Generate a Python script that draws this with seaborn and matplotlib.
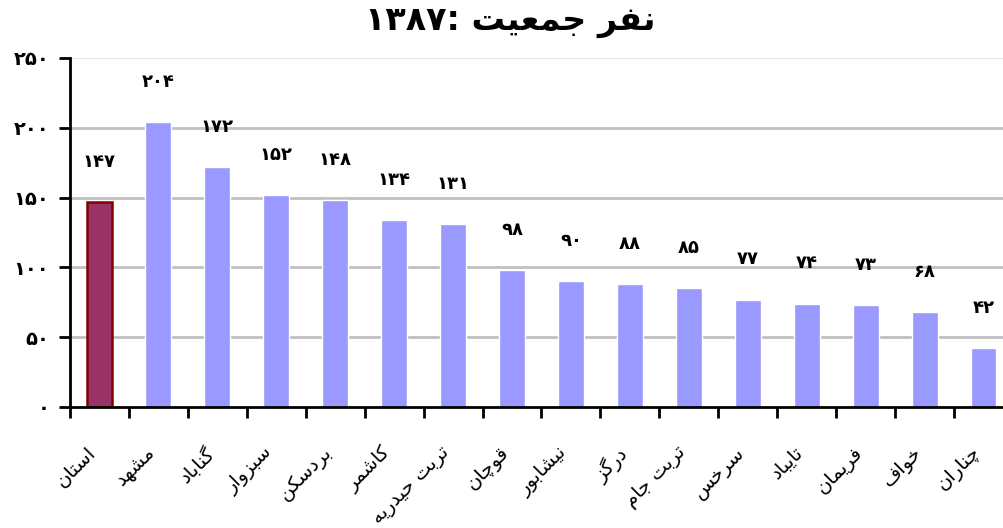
import numpy as np
import pandas as pd
import matplotlib
matplotlib.use("Agg")
import matplotlib.pyplot as plt
import matplotlib.transforms as mtransforms
import seaborn as sns

# =========================
# data
# =========================
cities = ["استان", "مشهد", "گناباد", "سبزوار", "بردسکن", "کاشمر", "تربت حیدریه",
          "قوچان", "نیشابور", "درگز", "تربت جام", "سرخس", "تایباد", "فریمان",
          "خواف", "چناران"]
population = [147, 204, 172, 152, 148, 134, 131, 98, 90, 88, 85, 77, 74, 73, 68, 42]
y_ticks = [0, 50, 100, 150, 200, 250]
title_word1 = "نفر"
title_word2 = "جمعیت"
title_year = "1387"

# =========================
# persian shaping helpers (matplotlib draws letters isolated, LTR)
# =========================
FOUR = {"ب": 0xFE8F, "پ": 0xFB56, "ت": 0xFE95, "ج": 0xFE9D, "چ": 0xFB7A,
        "ح": 0xFEA1, "خ": 0xFEA5, "س": 0xFEB1, "ش": 0xFEB5, "ع": 0xFEC9,
        "ف": 0xFED1, "ق": 0xFED5, "ک": 0xFB8E, "گ": 0xFB92, "م": 0xFEE1,
        "ن": 0xFEE5, "ه": 0xFEE9, "ی": 0xFBFC}
TWO = {"ا": 0xFE8D, "د": 0xFEA9, "ر": 0xFEAD, "ز": 0xFEAF, "و": 0xFEED}


def shape_word(w):
    out = []
    for i, c in enumerate(w):
        prev_c = w[i - 1] if i > 0 else None
        next_c = w[i + 1] if i + 1 < len(w) else None
        joins_prev = prev_c in FOUR and (c in FOUR or c in TWO)
        joins_next = c in FOUR and next_c is not None and (next_c in FOUR or next_c in TWO)
        if c in FOUR:
            base = FOUR[c]
            if joins_prev and joins_next:
                out.append(chr(base + 3))
            elif joins_prev:
                out.append(chr(base + 1))
            elif joins_next:
                out.append(chr(base + 2))
            else:
                out.append(chr(base))
        elif c in TWO:
            out.append(chr(TWO[c] + 1) if joins_prev else chr(TWO[c]))
        else:
            out.append(c)
    return "".join(out[::-1])


def fa(text):
    words = [shape_word(w) for w in text.split(" ")]
    return " ".join(words[::-1])


def fa_num(n):
    return str(n).translate(str.maketrans("0123456789", "۰۱۲۳۴۵۶۷۸۹"))


# =========================
# plot
# =========================
sns.set_theme(style="white")
plt.rcParams["font.family"] = ["DejaVu Sans"]
plt.rcParams["text.color"] = "black"
plt.rcParams["xtick.color"] = "black"
plt.rcParams["ytick.color"] = "black"

df = pd.DataFrame({"city": cities, "pop": population})
colors = ["#993366"] + ["#9999FF"] * (len(cities) - 1)

fig = plt.figure(figsize=(10.04, 5.28), dpi=100)
ax = fig.add_axes([70 / 1004, 121 / 528, 943 / 1004, 349 / 528])

sns.barplot(data=df, x="city", y="pop", hue="city", palette=colors,
            width=0.44, legend=False, ax=ax, saturation=1)
ax.patches[0].set_edgecolor("#800000")
ax.patches[0].set_linewidth(1.8)

ax.set_xlim(-0.5, len(cities) - 0.5)
ax.set_ylim(0, 250)
ax.set_axisbelow(True)
for t in y_ticks[1:-1]:
    ax.axhline(t, color="#C0C0C0", lw=2, zorder=0)
ax.axhline(250, color="#E6E6E6", lw=1.5, zorder=0)

for s in ["top", "right"]:
    ax.spines[s].set_visible(False)
for s in ["left", "bottom"]:
    ax.spines[s].set_color("black")
    ax.spines[s].set_linewidth(2)

ax.set_yticks(y_ticks)
ax.set_yticklabels([fa_num(t) for t in y_ticks], fontsize=14, fontweight="bold")
ax.tick_params(axis="y", direction="out", length=8, width=2, colors="black", pad=7, left=True)

# x ticks: marks at boundaries, labels at centers
ax.set_xticks(np.arange(len(cities)))
ax.set_xticks(np.arange(-0.5, len(cities), 1), minor=True)
ax.set_xticklabels([fa(c) for c in cities], fontsize=14, rotation=45,
                   ha="right", va="top", rotation_mode="anchor")
ax.tick_params(axis="x", which="major", length=0, pad=26, colors="black")
ax.tick_params(axis="x", which="minor", direction="out", length=8, width=2,
               color="black", bottom=True)
offset = mtransforms.ScaledTranslation(-13 / 100, 0, fig.dpi_scale_trans)
for lab in ax.get_xticklabels():
    lab.set_transform(lab.get_transform() + offset)

ax.set_xlabel("")
ax.set_ylabel("")

for i, v in enumerate(population):
    ax.annotate(fa_num(v), (i, v), xytext=(0, 29), textcoords="offset points",
                ha="center", va="center", fontsize=13, fontweight="bold", color="black")

title = fa_num(title_year) + ": " + fa(title_word2) + " " + fa(title_word1)
fig.text(0.508, 1 - 22 / 528, title, ha="center", va="center",
         fontsize=24, fontweight="bold", color="black")

fig.savefig("out.png", dpi=100)
